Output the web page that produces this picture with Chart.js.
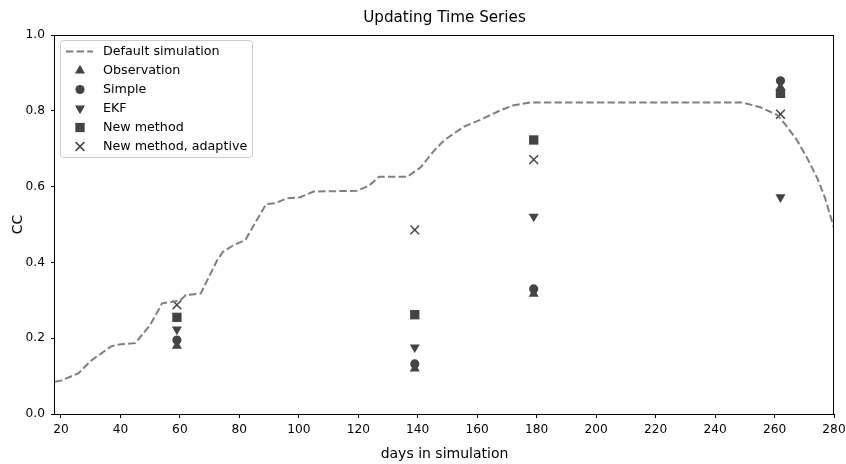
<!DOCTYPE html>
<html>
<head>
<meta charset="utf-8">
<script src="https://cdn.jsdelivr.net/npm/chart.js@4/dist/chart.umd.min.js"></script>
<style>
  html, body { margin: 0; padding: 0; background: #fff; }
</style>
</head>
<body>
<canvas id="dataChart" width="846" height="464"></canvas>
<script>
// default simulation curve
const simDays = [18, 20, 26, 30, 37, 40, 45, 50, 54, 60, 62, 67, 72.5, 74.5, 78, 82, 89, 92, 96, 100.5, 105, 119.5, 123.5, 127, 136.5, 141, 145.5, 149, 155.5, 161, 168, 172, 178, 249, 255, 261, 264, 267.5, 271, 274.5, 277, 280];
const simCC = [0.085, 0.088, 0.108, 0.14, 0.179, 0.184, 0.187, 0.235, 0.292, 0.299, 0.314, 0.318, 0.405, 0.428, 0.445, 0.459, 0.554, 0.556, 0.569, 0.572, 0.587, 0.589, 0.602, 0.626, 0.626, 0.651, 0.695, 0.723, 0.758, 0.776, 0.802, 0.814, 0.822, 0.822, 0.81, 0.789, 0.76, 0.723, 0.675, 0.62, 0.57, 0.49];

// update days and estimates
const obsDays = [59, 139, 179, 262];
const observation = [0.18, 0.12, 0.317, 0.862];
const simple = [0.195, 0.132, 0.33, 0.879];
const ekf = [0.223, 0.176, 0.521, 0.572];
const newMethod = [0.255, 0.262, 0.723, 0.846];
const newAdaptive = [0.288, 0.486, 0.671, 0.791];

const xTicks = [20, 40, 60, 80, 100, 120, 140, 160, 180, 200, 220, 240, 260, 280];
const yTicks = [0, 0.2, 0.4, 0.6, 0.8, 1.0];

const TITLE = 'Updating Time Series';
const FONT = 'DejaVu Sans';
const MARK = '#444444';
const LINE = '#7f7f7f';

function pts(days, vals) {
    return days.map((d, i) => ({ x: d, y: vals[i] }));
}

function markerSet(label, vals, style) {
    return Object.assign({
        label: label,
        data: pts(obsDays, vals),
        showLine: false,
        backgroundColor: MARK,
        borderColor: MARK,
        borderWidth: 0,
        pointBackgroundColor: MARK,
        pointBorderColor: MARK
    }, style);
}

// frame around the plot area + title centred over it
const framePlugin = {
    id: 'frame',
    afterDatasetsDraw(chart) {
        const a = chart.chartArea;
        const ctx = chart.ctx;
        ctx.save();
        ctx.strokeStyle = '#000';
        ctx.lineWidth = 1;
        ctx.strokeRect(Math.round(a.left) - 0.5, Math.round(a.top) + 0.5, Math.round(a.right - a.left), Math.round(a.bottom - a.top));

        ctx.fillStyle = '#000';
        ctx.font = '15.2px "' + FONT + '"';
        ctx.textAlign = 'center';
        ctx.textBaseline = 'middle';
        ctx.fillText(TITLE, (a.left + a.right) / 2, 18.5);
        ctx.restore();
    }
};

// legend inside the plot, upper left
const legendPlugin = {
    id: 'innerLegend',
    afterDraw(chart) {
        const ctx = chart.ctx;
        const x0 = 60.5, y0 = 40.5, w = 192, h = 117;
        ctx.save();
        ctx.fillStyle = 'rgba(255,255,255,0.85)';
        ctx.strokeStyle = '#cccccc';
        ctx.lineWidth = 1;
        ctx.beginPath();
        ctx.roundRect(x0, y0, w, h, 3);
        ctx.fill();
        ctx.stroke();

        ctx.font = '12.7px "' + FONT + '"';
        ctx.textBaseline = 'middle';
        ctx.textAlign = 'left';
        chart.data.datasets.forEach((ds, i) => {
            const cy = 51.5 + i * 19;
            if (ds.showLine) {
                ctx.strokeStyle = ds.borderColor;
                ctx.lineWidth = ds.borderWidth;
                ctx.setLineDash(ds.borderDash);
                ctx.beginPath();
                ctx.moveTo(66, cy);
                ctx.lineTo(93, cy);
                ctx.stroke();
                ctx.setLineDash([]);
            } else {
                ctx.fillStyle = MARK;
                ctx.strokeStyle = MARK;
                ctx.lineWidth = ds.pointBorderWidth || 1;
                Chart.helpers.drawPoint(ctx, {
                    pointStyle: ds.pointStyle,
                    radius: ds.pointRadius,
                    rotation: ds.pointRotation || 0,
                    borderWidth: ds.pointBorderWidth || 0
                }, 80, cy);
            }
            ctx.fillStyle = '#000';
            ctx.fillText(ds.label, 103, cy + 0.5);
        });
        ctx.restore();
    }
};

new Chart(document.getElementById('dataChart'), {
    type: 'scatter',
    data: {
        datasets: [
            {
                label: 'Default simulation',
                data: pts(simDays, simCC),
                showLine: true,
                borderColor: LINE,
                borderWidth: 2,
                borderDash: [7.4, 3.2],
                pointRadius: 0,
                tension: 0
            },
            markerSet('Observation', observation, { pointStyle: 'triangle', pointRadius: 5.8 }),
            markerSet('Simple', simple, { pointStyle: 'circle', pointRadius: 4.6 }),
            markerSet('EKF', ekf, { pointStyle: 'triangle', pointRotation: 180, pointRadius: 5.8 }),
            markerSet('New method', newMethod, { pointStyle: 'rect', pointRadius: 6.6 }),
            markerSet('New method, adaptive', newAdaptive, { pointStyle: 'crossRot', pointRadius: 6.2, pointBorderWidth: 1.5, borderWidth: 1.5 })
        ]
    },
    options: {
        responsive: false,
        animation: false,
        devicePixelRatio: 1,
        layout: { padding: { top: 35, right: 12, bottom: 0, left: 0 } },
        plugins: {
            legend: { display: false },
            tooltip: { enabled: false },
            title: { display: false }
        },
        scales: {
            x: {
                type: 'linear',
                min: 18,
                max: 280,
                afterBuildTicks: s => { s.ticks = xTicks.map(v => ({ value: v })); },
                afterFit: s => { s.height = 50; s.paddingLeft = 0; s.paddingRight = 0; },
                border: { display: false },
                grid: { drawOnChartArea: false, drawTicks: true, tickLength: 4, color: '#000' },
                ticks: { color: '#000', padding: 5, maxRotation: 0, font: { family: FONT, size: 12.2 } },
                title: {
                    display: true,
                    text: 'days in simulation',
                    color: '#000',
                    font: { family: FONT, size: 14 },
                    padding: { top: 0, bottom: 1 }
                }
            },
            y: {
                type: 'linear',
                min: 0,
                max: 1,
                afterBuildTicks: s => { s.ticks = yTicks.map(v => ({ value: v })); },
                afterFit: s => { s.width = 55; s.paddingTop = 0; s.paddingBottom = 0; },
                border: { display: false },
                grid: { drawOnChartArea: false, drawTicks: true, tickLength: 4, color: '#000' },
                ticks: {
                    color: '#000',
                    padding: 6,
                    font: { family: FONT, size: 12.2 },
                    callback: v => v.toFixed(1)
                },
                title: {
                    display: true,
                    text: 'CC',
                    color: '#000',
                    font: { family: FONT, size: 14 },
                    padding: { top: 10, bottom: 0 }
                }
            }
        }
    },
    plugins: [framePlugin, legendPlugin]
});
</script>
</body>
</html>
